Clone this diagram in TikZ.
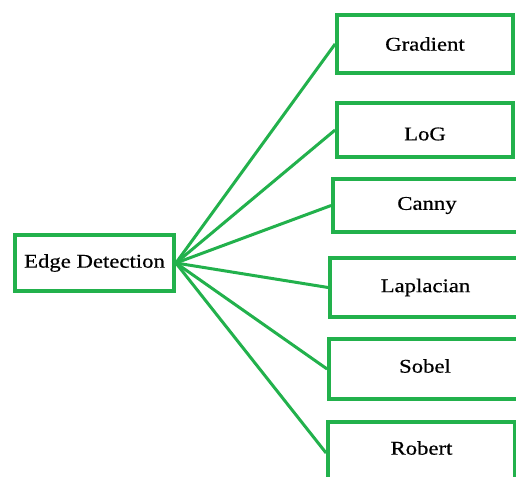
\documentclass[tikz,border=0pt]{standalone}
\usepackage{fontspec}
\setmainfont{Liberation Serif}[FakeStretch=1.17, FakeBold=0.6]
\definecolor{boxgreen}{RGB}{34,177,76}

% shift a label up or down inside its box without changing the box size
\newcommand{\nudge}[2]{\raisebox{#1}[\height][\depth]{#2}}

\begin{document}
\begin{tikzpicture}[x=1bp, y=-1bp,
        box/.style={draw=boxgreen, line width=3.8bp, rectangle, inner sep=0pt,
            font=\fontsize{19.5}{23}\selectfont},
        link/.style={draw=boxgreen, line width=3bp}
        ]
    \useasboundingbox (0,0) rectangle (516,477);
    \clip (0,0) rectangle (516,477);

    % root
    \node[box, minimum width=159bp, minimum height=56bp] (edge) at (94.5,263) {Edge Detection};

    % methods
    \node[box, minimum width=176bp, minimum height=58bp] (gradient) at (425,44) {Gradient};
    \node[box, minimum width=176bp, minimum height=54bp] (log) at (425,130) {\nudge{-4bp}{LoG}};
    \node[box, minimum width=188bp, minimum height=53bp] (canny) at (427,205.5) {Canny};
    \node[box, minimum width=191bp, minimum height=59bp] (laplacian) at (425.5,287.5) {Laplacian};
    \node[box, minimum width=192bp, minimum height=60bp] (sobel) at (425,369) {\nudge{3bp}{Sobel}};
    \node[box, minimum width=187bp, minimum height=62bp] (robert) at (421.5,453) {\nudge{5bp}{Robert}};

    \foreach \m in {gradient,log,canny,laplacian,sobel,robert}
        \draw[link] (edge.east) -- (\m.west);
\end{tikzpicture}
\end{document}
